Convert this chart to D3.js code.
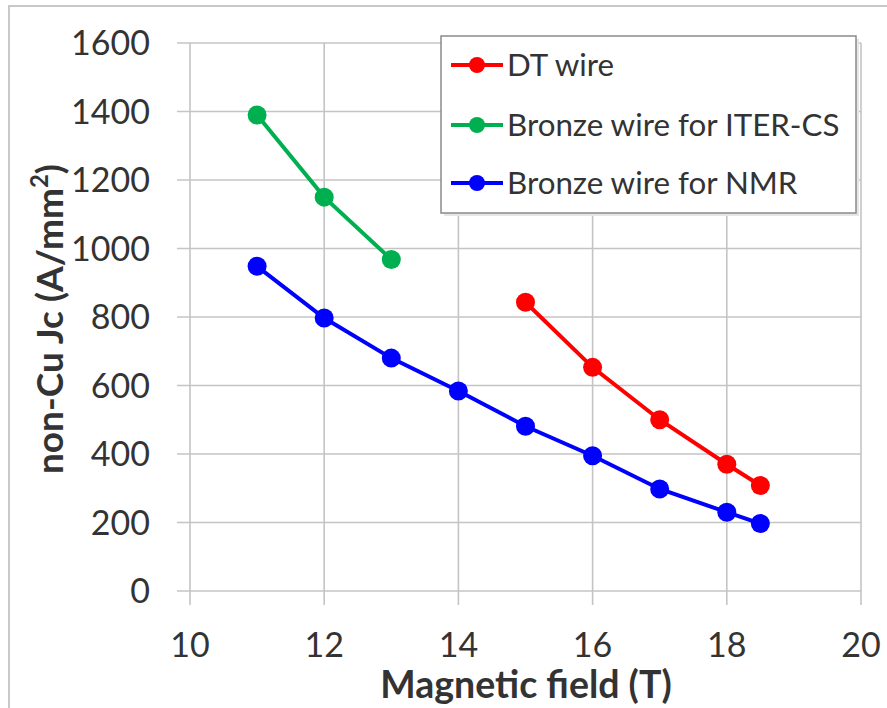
<!DOCTYPE html>
<html>
<head>
<meta charset="utf-8">
<script src="https://cdn.jsdelivr.net/npm/d3@7"></script>
<style>
  html, body { margin: 0; padding: 0; background: #fff; }
  svg { display: block; font-family: Lato, "Open Sans", sans-serif; }
</style>
</head>
<body>
<svg id="chart" width="887" height="708"></svg>
<script>
// Critical current density vs. magnetic field for three Nb3Sn wire types
const dtField = [15, 16, 17, 18, 18.5];
const dtJc = [843, 653, 500, 370, 308];

const iterField = [11, 12, 13];
const iterJc = [1390, 1150, 968];

const nmrField = [11, 12, 13, 14, 15, 16, 17, 18, 18.5];
const nmrJc = [948, 797, 680, 584, 481, 395, 298, 230, 197];

const seriesNames = ["DT wire", "Bronze wire for ITER-CS", "Bronze wire for NMR"];
const seriesColors = ["#ff0000", "#00b050", "#0000ff"];

const xTicks = [10, 12, 14, 16, 18, 20];
const yTicks = [0, 200, 400, 600, 800, 1000, 1200, 1400, 1600];

const series = [
  { name: seriesNames[0], color: seriesColors[0], pts: dtField.map((x, i) => [x, dtJc[i]]) },
  { name: seriesNames[1], color: seriesColors[1], pts: iterField.map((x, i) => [x, iterJc[i]]) },
  { name: seriesNames[2], color: seriesColors[2], pts: nmrField.map((x, i) => [x, nmrJc[i]]) }
];

const svg = d3.select("#chart");

// outer chart frame
svg.append("rect")
  .attr("x", 9).attr("y", 6).attr("width", 900).attr("height", 720)
  .attr("fill", "#fff").attr("stroke", "#c8c8c8").attr("stroke-width", 2);

const x = d3.scaleLinear().domain([10, 20]).range([190, 861]);
const y = d3.scaleLinear().domain([0, 1600]).range([591, 43]);

const gridColor = "#c4c4c4";
const textColor = "#333333";

// horizontal gridlines (with tick stubs on the left)
svg.append("g").selectAll("line").data(yTicks).join("line")
  .attr("x1", x(10) - 13).attr("x2", x(20))
  .attr("y1", d => y(d)).attr("y2", d => y(d))
  .attr("stroke", gridColor).attr("stroke-width", 1.6);

// vertical gridlines (with tick stubs below)
svg.append("g").selectAll("line").data(xTicks).join("line")
  .attr("x1", d => x(d)).attr("x2", d => x(d))
  .attr("y1", y(1600)).attr("y2", y(0) + 14)
  .attr("stroke", gridColor).attr("stroke-width", 1.6);

// y tick labels
svg.append("g").selectAll("text").data(yTicks).join("text")
  .attr("x", 150).attr("y", d => y(d))
  .attr("dy", "0.36em")
  .attr("text-anchor", "end")
  .attr("font-size", 34)
  .attr("fill", textColor)
  .text(d => d);

// x tick labels
svg.append("g").selectAll("text").data(xTicks).join("text")
  .attr("x", d => x(d)).attr("y", 645)
  .attr("dy", "0.36em")
  .attr("text-anchor", "middle")
  .attr("font-size", 34)
  .attr("fill", textColor)
  .text(d => d);

// axis titles
svg.append("text")
  .attr("x", 526).attr("y", 698)
  .attr("text-anchor", "middle")
  .attr("font-size", 37.5).attr("font-weight", "bold")
  .attr("fill", textColor)
  .text("Magnetic field (T)");

const yTitle = svg.append("text")
  .attr("transform", "translate(63,319) rotate(-90)")
  .attr("text-anchor", "middle")
  .attr("font-size", 37).attr("font-weight", "bold")
  .attr("fill", textColor);
yTitle.append("tspan").text("non-Cu Jc (A/mm");
yTitle.append("tspan").attr("font-size", 24).attr("dy", -15).text("2");
yTitle.append("tspan").attr("dy", 15).text(")");

// series lines and markers
const line = d3.line().x(d => x(d[0])).y(d => y(d[1]));
series.forEach(s => {
  svg.append("path")
    .attr("d", line(s.pts))
    .attr("fill", "none")
    .attr("stroke", s.color)
    .attr("stroke-width", 4);
  svg.append("g").selectAll("circle").data(s.pts).join("circle")
    .attr("cx", d => x(d[0])).attr("cy", d => y(d[1]))
    .attr("r", 9.5)
    .attr("fill", s.color);
});

// legend
const lg = svg.append("g");
lg.append("rect")
  .attr("x", 444).attr("y", 39).attr("width", 415).attr("height", 177)
  .attr("fill", "#e6e6e6");
lg.append("rect")
  .attr("x", 441).attr("y", 36).attr("width", 415).attr("height", 177)
  .attr("fill", "#fff").attr("stroke", "#8a8a8a").attr("stroke-width", 1.5);

const rowY = [65, 125, 183];
series.forEach((s, i) => {
  const g = lg.append("g").attr("transform", `translate(0,${rowY[i]})`);
  g.append("line")
    .attr("x1", 451).attr("x2", 503).attr("y1", 0).attr("y2", 0)
    .attr("stroke", s.color).attr("stroke-width", 4);
  g.append("circle").attr("cx", 477).attr("cy", 0).attr("r", 8).attr("fill", s.color);
  g.append("text")
    .attr("x", 507).attr("y", 0).attr("dy", "0.36em")
    .attr("font-size", 31.3)
    .attr("fill", textColor)
    .text(s.name);
});
</script>
</body>
</html>
